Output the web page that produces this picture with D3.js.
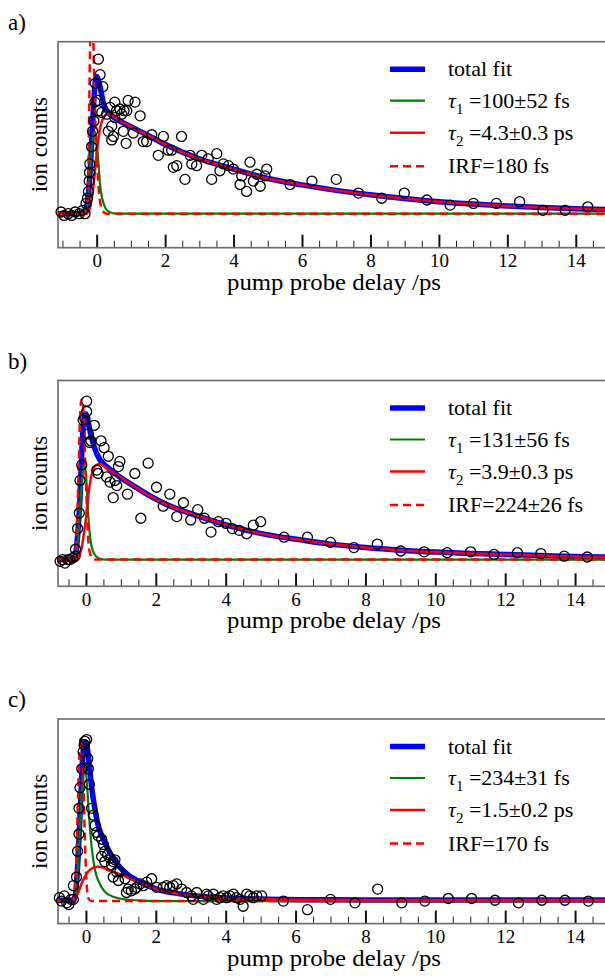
<!DOCTYPE html>
<html><head><meta charset="utf-8">
<script src="https://cdn.jsdelivr.net/npm/d3@7"></script>
<style>
body{margin:0;background:#fff}
svg{display:block}
svg text{font-family:"Liberation Serif","Times New Roman","DejaVu Serif",serif !important;fill:#000}
</style>
</head><body>
<svg id="chart" width="605" height="976"></svg>
<script>
// ---------- data ----------
const xTicksMajor = [0, 2, 4, 6, 8, 10, 12, 14];
const panelLetters = ["a)", "b)", "c)"];
const xLabel = "pump probe delay /ps";
const yLabel = "ion counts";
const legendTotal = "total fit";
const tau1Text = ["=100\u00B152 fs", "=131\u00B156 fs", "=234\u00B131 fs"];
const tau2Text = ["=4.3\u00B10.3 ps", "=3.9\u00B10.3 ps", "=1.5\u00B10.2 ps"];
const irfText = ["IRF=180 fs", "IRF=224\u00B126 fs", "IRF=170 fs"];

// panel a
const pointsA = [[-1.04,0.01],[-0.95,-0.01],[-0.83,0.0],[-0.73,-0.01],[-0.63,0.01],[-0.51,0.0],[-0.41,0.02],[-0.34,0.0],[-0.31,0.06],[-0.27,0.09],[-0.24,0.13],[-0.22,0.19],[-0.21,0.24],[-0.2,0.29],[-0.15,0.39],[-0.12,0.48],[-0.08,0.54],[-0.05,0.65],[-0.04,0.76],[0.05,0.9],[0.1,0.81],[0.18,0.74],[0.03,0.66],[0.05,0.6],[0.15,0.59],[0.29,0.58],[0.39,0.62],[0.53,0.65],[0.58,0.6],[0.68,0.61],[0.73,0.58],[0.8,0.6],[0.88,0.6],[0.92,0.66],[1.12,0.65],[1.27,0.57],[0.53,0.56],[0.44,0.51],[0.34,0.48],[0.49,0.45],[0.44,0.43],[0.78,0.48],[0.86,0.41],[1.07,0.47],[1.36,0.42],[1.46,0.42],[1.61,0.46],[1.95,0.45],[1.8,0.34],[2.09,0.37],[2.19,0.37],[2.48,0.45],[2.24,0.27],[2.34,0.28],[2.58,0.2],[2.73,0.34],[2.78,0.29],[2.92,0.28],[3.07,0.34],[3.26,0.32],[3.36,0.2],[3.51,0.35],[3.6,0.25],[3.7,0.29],[3.85,0.28],[3.99,0.26],[4.19,0.17],[4.24,0.22],[4.38,0.13],[4.48,0.3],[4.58,0.19],[4.68,0.23],[4.78,0.16],[4.92,0.22],[4.97,0.26],[5.65,0.17],[6.29,0.19],[7.0,0.2],[7.65,0.12],[8.33,0.09],[8.99,0.12],[9.65,0.08],[10.33,0.05],[11.01,0.06],[11.68,0.06],[12.36,0.07],[13.04,0.02],[13.69,0.02],[14.35,0.04]];
const totalA = [[-1.13,0.0],[-0.5,0.0],[-0.38,0.01],[-0.3,0.04],[-0.25,0.1],[-0.2,0.22],[-0.16,0.36],[-0.12,0.52],[-0.08,0.67],[-0.04,0.77],[0.0,0.8],[0.05,0.78],[0.12,0.72],[0.19,0.65],[0.29,0.6],[0.44,0.57],[0.68,0.54],[1.07,0.5],[1.56,0.45],[2.04,0.4],[3.0,0.32],[4.0,0.26],[5.0,0.205],[6.0,0.168],[7.0,0.136],[8.0,0.11],[9.0,0.088],[10.0,0.07],[11.0,0.056],[12.0,0.045],[13.0,0.036],[14.0,0.029],[15.0,0.024]];
const tau1A = [[-1.13,0],[-0.4,0],[-0.32,0.02],[-0.25,0.1],[-0.18,0.3],[-0.11,0.45],[-0.05,0.48],[0.0,0.42],[0.05,0.3],[0.1,0.17],[0.15,0.1],[0.2,0.06],[0.3,0.02],[0.45,0.004],[0.6,0],[15,0]];
const tau2A = [[-1.13,0],[-0.3,0],[-0.2,0.03],[-0.1,0.15],[0.0,0.35],[0.1,0.5],[0.2,0.56],[0.3,0.58],[0.45,0.57],[0.7,0.54],[1.07,0.5],[1.56,0.45],[2.04,0.4],[3.0,0.32],[4.0,0.26],[5.0,0.205],[6.0,0.168],[7.0,0.136],[8.0,0.11],[9.0,0.088],[10.0,0.07],[11.0,0.056],[12.0,0.045],[13.0,0.036],[14.0,0.029],[15.0,0.024]];
const irfA = [[-1.13,0],[-0.34,0],[-0.3,0.01],[-0.27,0.05],[-0.24,0.3],[-0.21,0.75],[-0.18,1.1],[-0.15,1.25],[-0.12,1.2],[-0.09,0.95],[-0.05,0.6],[0.0,0.35],[0.04,0.2],[0.08,0.1],[0.13,0.04],[0.2,0.01],[0.3,0],[15,0]];

// panel b
const pointsB = [[-0.74,-0.01],[-0.67,0.0],[-0.6,-0.02],[-0.52,0.0],[-0.46,0.0],[-0.38,0.01],[-0.31,0.02],[-0.3,0.06],[-0.24,0.18],[-0.19,0.27],[-0.17,0.46],[-0.12,0.55],[-0.08,0.81],[-0.03,0.82],[0.02,0.92],[0.02,0.86],[0.07,0.73],[0.14,0.69],[0.11,0.68],[0.24,0.78],[0.43,0.69],[0.52,0.65],[0.64,0.6],[0.97,0.57],[0.93,0.54],[0.31,0.52],[0.35,0.5],[0.59,0.48],[0.69,0.45],[0.83,0.46],[0.88,0.43],[0.78,0.36],[1.19,0.38],[1.4,0.5],[1.78,0.56],[1.57,0.24],[2.02,0.42],[2.21,0.31],[2.4,0.38],[2.6,0.25],[2.79,0.33],[3.0,0.23],[3.2,0.29],[3.39,0.24],[3.58,0.16],[3.79,0.22],[4.01,0.21],[4.19,0.18],[4.39,0.17],[4.6,0.15],[4.79,0.2],[5.0,0.22],[5.67,0.13],[6.34,0.13],[7.0,0.1],[7.67,0.07],[8.34,0.09],[9.01,0.05],[9.68,0.045],[10.34,0.04],[11.01,0.045],[11.68,0.03],[12.35,0.04],[13.02,0.035],[13.69,0.02],[14.35,0.015]];
const totalB = [[-0.8,0],[-0.4,0],[-0.34,0.01],[-0.31,0.02],[-0.27,0.07],[-0.22,0.19],[-0.17,0.36],[-0.12,0.62],[-0.08,0.77],[-0.03,0.84],[0.0,0.845],[0.03,0.83],[0.07,0.79],[0.16,0.71],[0.26,0.64],[0.4,0.58],[0.59,0.54],[0.97,0.48],[1.35,0.43],[1.83,0.37],[2.31,0.32],[3.26,0.25],[4.22,0.19],[5.17,0.145],[6.13,0.115],[7.0,0.09],[8.0,0.07],[9.0,0.055],[10.0,0.044],[11.0,0.036],[12.0,0.03],[13.0,0.024],[14.0,0.018],[15.0,0.014]];
const tau1B = [[-0.8,0],[-0.38,0],[-0.3,0.02],[-0.25,0.08],[-0.2,0.2],[-0.15,0.36],[-0.1,0.5],[-0.05,0.55],[0.0,0.5],[0.04,0.36],[0.08,0.22],[0.12,0.13],[0.17,0.07],[0.25,0.03],[0.35,0.01],[0.55,0],[15,0]];
const tau2B = [[-0.8,0],[-0.3,0],[-0.2,0.02],[-0.12,0.07],[-0.06,0.15],[0.0,0.24],[0.06,0.36],[0.12,0.45],[0.2,0.52],[0.3,0.55],[0.42,0.555],[0.6,0.53],[0.97,0.48],[1.35,0.43],[1.83,0.37],[2.31,0.32],[3.26,0.25],[4.22,0.19],[5.17,0.145],[6.13,0.115],[7.0,0.09],[8.0,0.07],[9.0,0.055],[10.0,0.044],[11.0,0.036],[12.0,0.03],[13.0,0.024],[14.0,0.018],[15.0,0.014]];
const irfB = [[-0.8,0],[-0.4,0],[-0.33,0.01],[-0.29,0.07],[-0.25,0.25],[-0.21,0.52],[-0.17,0.82],[-0.13,0.93],[-0.09,0.9],[-0.05,0.77],[-0.01,0.5],[0.02,0.34],[0.05,0.18],[0.08,0.08],[0.12,0.035],[0.17,0.01],[0.25,0],[15,0]];

// panel c
const pointsC = [[-0.76,0.02],[-0.7,0.0],[-0.62,0.03],[-0.55,-0.01],[-0.49,-0.02],[-0.43,0.01],[-0.36,0.01],[-0.36,0.09],[-0.27,0.14],[-0.24,0.29],[-0.2,0.39],[-0.2,0.54],[-0.17,0.66],[-0.12,0.77],[-0.08,0.87],[-0.05,0.91],[-0.03,0.93],[0.02,0.94],[0.05,0.83],[0.07,0.77],[0.1,0.68],[0.16,0.54],[0.21,0.5],[0.26,0.44],[0.31,0.4],[0.35,0.38],[0.45,0.36],[0.5,0.33],[0.54,0.29],[0.62,0.27],[0.69,0.25],[0.73,0.21],[0.78,0.23],[0.83,0.24],[0.54,0.23],[0.45,0.26],[0.88,0.17],[0.97,0.17],[0.78,0.14],[1.12,0.13],[0.93,0.12],[1.21,0.07],[1.4,0.07],[1.55,0.1],[1.64,0.09],[1.88,0.13],[1.16,0.05],[1.3,0.06],[1.45,0.08],[1.74,0.11],[2.02,0.08],[2.21,0.08],[2.31,0.09],[2.4,0.08],[2.5,0.09],[2.6,0.1],[2.74,0.07],[2.88,0.05],[3.07,0.01],[3.02,0.03],[3.17,0.05],[3.36,0.01],[3.45,0.04],[3.5,0.03],[3.65,0.04],[3.74,0.01],[3.84,0.02],[3.93,0.03],[4.03,0.02],[4.12,0.03],[4.22,0.04],[4.31,0.02],[4.41,0.01],[4.5,-0.03],[4.6,0.04],[4.69,0.03],[4.79,0.02],[4.89,0.03],[5.03,0.03],[5.65,0.0],[6.34,-0.05],[7.0,0.01],[7.7,-0.01],[8.35,0.07],[9.04,-0.01],[9.7,0.0],[10.37,0.015],[11.04,0.015],[11.71,0.005],[12.38,-0.01],[13.05,0.005],[13.71,0.005],[14.38,0.0]];
const totalC = [[-0.8,0.005],[-0.4,0.005],[-0.34,0.015],[-0.3,0.04],[-0.25,0.16],[-0.2,0.36],[-0.15,0.59],[-0.1,0.82],[-0.05,0.91],[0.0,0.925],[0.04,0.89],[0.1,0.78],[0.16,0.67],[0.26,0.53],[0.35,0.44],[0.5,0.36],[0.69,0.28],[0.88,0.22],[1.16,0.16],[1.55,0.11],[2.02,0.07],[2.6,0.045],[3.26,0.028],[4.22,0.016],[5.17,0.011],[6.5,0.008],[8.0,0.007],[10.0,0.006],[12.0,0.006],[15.0,0.006]];
const tau1C = [[-0.8,0],[-0.38,0],[-0.32,0.02],[-0.27,0.07],[-0.22,0.25],[-0.17,0.44],[-0.12,0.64],[-0.07,0.76],[-0.03,0.78],[0.0,0.75],[0.04,0.65],[0.08,0.52],[0.12,0.41],[0.16,0.32],[0.21,0.24],[0.26,0.18],[0.35,0.12],[0.54,0.055],[0.83,0.022],[1.12,0.01],[1.5,0.004],[2.0,0],[15,0]];
const tau2C = [[-0.8,0],[-0.4,0.005],[-0.3,0.025],[-0.22,0.05],[-0.12,0.105],[-0.05,0.135],[0.02,0.16],[0.1,0.18],[0.2,0.193],[0.35,0.2],[0.5,0.195],[0.64,0.18],[0.93,0.16],[1.16,0.14],[1.55,0.105],[2.02,0.07],[2.6,0.045],[3.26,0.028],[4.22,0.016],[5.17,0.011],[6.5,0.008],[8.0,0.007],[10.0,0.006],[15.0,0.006]];
const irfC = [[-0.8,0],[-0.4,0],[-0.35,0.01],[-0.31,0.06],[-0.27,0.29],[-0.22,0.64],[-0.18,0.88],[-0.14,0.95],[-0.1,0.86],[-0.07,0.68],[-0.03,0.35],[0.0,0.18],[0.03,0.07],[0.07,0.015],[0.15,0],[15,0]];

// ---------- layout ----------
const panels = [
  {top: 41.7, bottom: 247.7, xmin: -1.13, ymin: -0.198, ymax: 1.002, pts: pointsA, total: totalA, tau1: tau1A, tau2: tau2A, irf: irfA},
  {top: 380.5, bottom: 586.3, xmin: -0.80, ymin: -0.155, ymax: 1.040, pts: pointsB, total: totalB, tau1: tau1B, tau2: tau2B, irf: irfB},
  {top: 719.0, bottom: 923.6, xmin: -0.80, ymin: -0.131, ymax: 1.060, pts: pointsC, total: totalC, tau1: tau1C, tau2: tau2C, irf: irfC}
];
const left = 58, right = 610, xmax = 15;
const FONT = '"Liberation Serif","Times New Roman","DejaVu Serif",serif';
const svg = d3.select("#chart");

panels.forEach((p, i) => {
  const x = d3.scaleLinear().domain([p.xmin, xmax]).range([left, right]);
  const y = d3.scaleLinear().domain([p.ymin, p.ymax]).range([p.bottom, p.top]);
  const g = svg.append("g");
  const clipId = "clip" + i;
  svg.append("clipPath").attr("id", clipId).append("rect")
    .attr("x", left).attr("y", p.top).attr("width", right - left).attr("height", p.bottom - p.top);

  // minor & major ticks (inward)
  const minor = d3.range(Math.ceil(p.xmin * 2) / 2, xmax + 0.001, 0.5).filter(v => !xTicksMajor.includes(v));
  const axMinor = d3.axisBottom(x).tickValues(minor).tickSize(-7).tickFormat("");
  const gMin = g.append("g").attr("transform", `translate(0,${p.bottom})`).call(axMinor);
  gMin.select(".domain").remove();
  gMin.selectAll("line").attr("stroke", "#222").attr("stroke-width", 1);

  const axMajor = d3.axisBottom(x).tickValues(xTicksMajor).tickSize(-13).tickPadding(6).tickFormat(d3.format("d"));
  const gMaj = g.append("g").attr("transform", `translate(0,${p.bottom})`).call(axMajor);
  gMaj.attr("font-family", FONT).attr("font-size", 19);
  gMaj.select(".domain").remove();
  gMaj.selectAll("line").attr("stroke", "#111").attr("stroke-width", 2);
  gMaj.selectAll("text").attr("fill", "#000");

  // frame
  g.append("rect").attr("x", left).attr("y", p.top).attr("width", right - left).attr("height", p.bottom - p.top)
    .attr("fill", "none").attr("stroke", "#6a6a6a").attr("stroke-width", 1.6);

  // curves
  const line = d3.line().x(d => x(d[0])).y(d => y(d[1])).curve(d3.curveMonotoneX);
  const cg = g.append("g").attr("clip-path", `url(#${clipId})`);
  cg.append("path").attr("d", line(p.total)).attr("fill", "none").attr("stroke", "#0000ff").attr("stroke-width", 5.5).attr("stroke-linejoin", "round");
  cg.append("path").attr("d", line(p.tau1)).attr("fill", "none").attr("stroke", "#008000").attr("stroke-width", 2.2);
  cg.append("path").attr("d", line(p.tau2)).attr("fill", "none").attr("stroke", "#ff0000").attr("stroke-width", 2.5);
  cg.append("path").attr("d", line(p.irf)).attr("fill", "none").attr("stroke", "#ff0000").attr("stroke-width", 2.5).attr("stroke-dasharray", "8,5");

  // data points
  g.append("g").selectAll("circle").data(p.pts).join("circle")
    .attr("cx", d => x(d[0])).attr("cy", d => y(d[1])).attr("r", 5)
    .attr("fill", "none").attr("stroke", "#000").attr("stroke-width", 1.3);

  // labels
  svg.append("text").attr("x", (left + right) / 2).attr("y", p.bottom + 42)
    .attr("text-anchor", "middle").attr("font-size", 23).attr("font-family", FONT)
    .attr("textLength", 214).attr("lengthAdjust", "spacingAndGlyphs").text(xLabel);
  svg.append("text").attr("transform", `translate(47,${(p.top + p.bottom) / 2}) rotate(-90)`)
    .attr("text-anchor", "middle").attr("font-size", 23).attr("font-family", FONT).text(yLabel);
  svg.append("text").attr("x", 8).attr("y", p.top - 12).attr("font-size", 23).attr("font-family", FONT).text(panelLetters[i]);

  // legend
  const rows = [27.5, 59, 91, 124.5].map(v => p.top + v);
  const lg = svg.append("g").attr("font-family", FONT);
  const lx1 = 390, lx2 = 425, tx = 448;
  lg.append("line").attr("x1", lx1).attr("x2", lx2).attr("y1", rows[0]).attr("y2", rows[0]).attr("stroke", "#0000ff").attr("stroke-width", 5.5);
  lg.append("line").attr("x1", lx1).attr("x2", lx2).attr("y1", rows[1]).attr("y2", rows[1]).attr("stroke", "#008000").attr("stroke-width", 2.2);
  lg.append("line").attr("x1", lx1).attr("x2", lx2).attr("y1", rows[2]).attr("y2", rows[2]).attr("stroke", "#ff0000").attr("stroke-width", 2.5);
  lg.append("line").attr("x1", lx1).attr("x2", lx2).attr("y1", rows[3]).attr("y2", rows[3]).attr("stroke", "#ff0000").attr("stroke-width", 2.5).attr("stroke-dasharray", "8,5");
  lg.append("text").attr("x", tx).attr("y", rows[0] + 7).attr("font-size", 22).text(legendTotal);
  [[tau1Text[i], "1"], [tau2Text[i], "2"]].forEach((t, k) => {
    const tt = lg.append("text").attr("x", tx).attr("y", rows[k + 1] + 7).attr("font-size", 22);
    tt.append("tspan").attr("font-style", "italic").text("\u03C4");
    tt.append("tspan").attr("font-size", 15).attr("dy", 6).text(t[1]);
    tt.append("tspan").attr("dy", -6).text(" " + t[0]);
  });
  lg.append("text").attr("x", tx).attr("y", rows[3] + 7).attr("font-size", 22).text(irfText[i]);
});
</script>
</body></html>
